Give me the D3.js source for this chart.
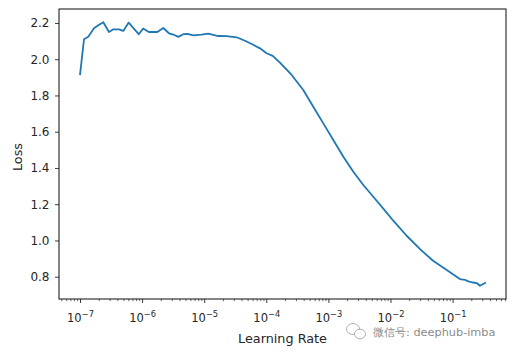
<!DOCTYPE html>
<html><head><meta charset="utf-8">
<script src="https://cdn.jsdelivr.net/npm/d3@7"></script>
<style>
body{margin:0;background:#fff;}
text{font-family:"DejaVu Sans",sans-serif;}
</style></head>
<body><svg id="c" width="515" height="355"></svg>
<script>
const learningRates = [1.0e-7,1.16e-7,1.36e-7,1.68e-7,2.0e-7,2.37e-7,2.93e-7,3.44e-7,4.25e-7,4.98e-7,6.08e-7,8.81e-7,1.04e-6,1.28e-6,1.76e-6,2.19e-6,2.71e-6,3.18e-6,3.83e-6,4.61e-6,5.54e-6,6.67e-6,9.12e-6,1.16e-5,1.69e-5,2.30e-5,3.33e-5,4.54e-5,5.82e-5,7.92e-5,1.01e-4,1.27e-4,1.66e-4,2.56e-4,3.94e-4,5.71e-4,8.28e-4,1.20e-3,1.74e-3,2.52e-3,3.65e-3,5.28e-3,8.15e-3,1.11e-2,1.82e-2,2.99e-2,4.85e-2,8.04e-2,0.131,0.158,0.179,0.215,0.244,0.276,0.345];
const losses = [1.912,2.110,2.124,2.171,2.189,2.204,2.150,2.165,2.165,2.156,2.202,2.138,2.169,2.150,2.150,2.172,2.143,2.136,2.123,2.138,2.139,2.132,2.136,2.141,2.128,2.127,2.121,2.102,2.084,2.060,2.033,2.018,1.981,1.913,1.830,1.738,1.646,1.554,1.462,1.379,1.306,1.241,1.165,1.109,1.026,0.952,0.888,0.837,0.787,0.783,0.774,0.768,0.765,0.750,0.768];
const yTicks = [0.8,1.0,1.2,1.4,1.6,1.8,2.0,2.2];
const xTickExps = [-7,-6,-5,-4,-3,-2,-1];
const xLabel = "Learning Rate";
const yLabel = "Loss";
const watermark = "微信号: deephub-imba";

const svg = d3.select("#c");
const L=59, R=506, T=9, B=299;
const x = d3.scaleLog().domain([Math.pow(10,-7.338), Math.pow(10,-0.14)]).range([L,R]);
const y = d3.scaleLinear().domain([0.677,2.277]).range([B,T]);
const ink = "#262626";

// minor ticks
const minors=[];
for(let e=-8;e<=0;e++){for(let k=2;k<=9;k++){const v=k*Math.pow(10,e); if(v>=x.domain()[0]&&v<=x.domain()[1]) minors.push(v);}}
const gxm = svg.append("g").attr("transform",`translate(0,${B})`)
  .call(d3.axisBottom(x).tickValues(minors).tickSize(2.2).tickFormat(""));
gxm.select(".domain").remove();
gxm.selectAll("line").attr("stroke",ink).attr("stroke-width",0.7);

const gx = svg.append("g").attr("transform",`translate(0,${B})`)
  .call(d3.axisBottom(x).tickValues(xTickExps.map(e=>Math.pow(10,e))).tickSize(4).tickFormat(""));
gx.select(".domain").remove();
gx.selectAll("line").attr("stroke",ink).attr("stroke-width",0.9);
gx.selectAll(".tick").each(function(d,i){
  const t=d3.select(this).append("text").attr("y",23).attr("text-anchor","middle").attr("fill",ink).attr("font-size",11.5);
  t.append("tspan").text("10");
  t.append("tspan").attr("dy",-5).attr("font-size",8.3).text("\u2212"+(-xTickExps[i]));
});

const gy = svg.append("g").attr("transform",`translate(${L},0)`)
  .call(d3.axisLeft(y).tickValues(yTicks).tickSize(4).tickPadding(5.5).tickFormat(d3.format(".1f")));
gy.select(".domain").remove();
gy.selectAll("line").attr("stroke",ink).attr("stroke-width",0.9);
gy.selectAll("text").attr("fill",ink).attr("font-size",12).attr("font-family","DejaVu Sans");

// frame
svg.append("rect").attr("x",L).attr("y",T).attr("width",R-L).attr("height",B-T)
  .attr("fill","none").attr("stroke","#222").attr("stroke-width",1.1);

// line
const data = learningRates.map((v,i)=>[v,losses[i]]);
svg.append("path").datum(data)
  .attr("d",d3.line().x(d=>x(d[0])).y(d=>y(d[1])))
  .attr("fill","none").attr("stroke","#1f77b4").attr("stroke-width",1.8).attr("stroke-linejoin","round");

// labels
svg.append("text").attr("x",(L+R)/2).attr("y",343).attr("text-anchor","middle").attr("font-size",12.8).attr("fill",ink).text(xLabel);
svg.append("text").attr("transform",`translate(21.5,${(T+B)/2+3}) rotate(-90)`).attr("text-anchor","middle").attr("font-size",12.8).attr("fill",ink).text(yLabel);

// watermark
const wm = svg.append("g").attr("fill","none").attr("stroke","#aaa").attr("stroke-width",0.9);
wm.append("ellipse").attr("cx",353).attr("cy",329).attr("rx",6.5).attr("ry",5.5);
wm.append("ellipse").attr("cx",360).attr("cy",334).attr("rx",5.5).attr("ry",4.8).attr("fill","#fff");
svg.append("text").attr("x",373).attr("y",336).attr("font-size",11.3).attr("fill","#8a8a8a")
  .attr("font-family","'Noto Sans CJK SC','DejaVu Sans',sans-serif").text(watermark);
</script></body></html>
